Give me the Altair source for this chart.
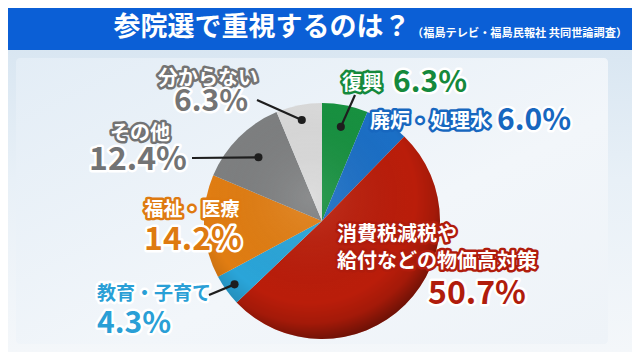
import altair as alt
import pandas as pd
import numpy as np

# ---------------- data ----------------
categories = ["復興", "廃炉・処理水", "消費税減税や給付などの物価高対策",
              "教育・子育て", "福祉・医療", "その他", "分からない"]
values = [6.3, 6.0, 50.7, 4.3, 14.2, 12.4, 6.3]
pct_labels = ["6.3%", "6.0%", "50.7%", "4.3%", "14.2%", "12.4%", "6.3%"]
name_lines = [["復興"], ["廃炉・処理水"], ["消費税減税や", "給付などの物価高対策"],
              ["教育・子育て"], ["福祉・医療"], ["その他"], ["分からない"]]
title_text = "参院選で重視するのは？"
subtitle_text = "（福島テレビ・福島民報社 共同世論調査）"

# ---------------- styles ----------------
slice_colors = ["#179140", "#1b6fc6", "#ba1d0a", "#2aa5d9", "#e17d12", "#7e8081", "#dadada"]
accent = ["#15893c", "#1767bf", "#b01c0c", "#2a9fd6", "#de7a10", "#727374", "#747474"]
# name text: (fill, outline); pct text: (fill, outline)
name_style = [("white", accent[0]), ("white", accent[1]), ("white", accent[2]),
              (accent[3], "white"), ("white", accent[4]), ("white", accent[5]), ("white", accent[6])]
pct_style = [(a, "white") for a in accent]

W, H = 624, 344
CX, CY, R = 314, 213, 118
FONT = "Noto Sans CJK JP"

# label layout: name position, pct position (x, y, align), leader start + dot radius
name_pos = [(334, 76, "left"), (362, 114, "left"), (329, 227, "left"),
            (89, 286, "left"), (184, 202, "center"), (132, 126, "center"), (200, 71, "center")]
name_gap = 27
pct_pos = [(385, 75, "left"), (489, 113, "left"), (420, 286, "left"),
           (89, 316, "left"), (185, 232, "center"), (130, 152, "center"), (203, 94, "center")]
name_size = [20, 20, 20, 19, 19, 20, 20]
pct_size = [30, 30, 32, 30, 32, 32, 30]
leaders = {0: (347, 87, 96), 3: (201, 287, 108), 5: (184, 150, 90), 6: (249, 92, 103)}

# ---------------- tables ----------------
pie_df = pd.DataFrame({"cat": categories, "val": values, "order": range(len(values))})

vals = np.array(values)
cum = np.cumsum(vals) - vals / 2.0
mid_angle = cum / vals.sum() * 2 * np.pi

rows = []
for i in range(len(categories)):
    x, y, al = name_pos[i]
    for j, line in enumerate(name_lines[i]):
        rows.append(dict(t=line, x=x, y=y + j * name_gap, al=al, s=name_size[i],
                         fill=name_style[i][0], out=name_style[i][1]))
    x, y, al = pct_pos[i]
    rows.append(dict(t=pct_labels[i], x=x, y=y, al=al, s=pct_size[i],
                     fill=pct_style[i][0], out=pct_style[i][1]))
text_df = pd.DataFrame(rows)

lrows = []
for i, (lx, ly, rr) in leaders.items():
    a = mid_angle[i]
    lrows.append(dict(x=lx, y=ly, x2=CX + rr * np.sin(a), y2=CY - rr * np.cos(a)))
lead_df = pd.DataFrame(lrows)

# ---------------- layers ----------------
bg = alt.Chart(pd.DataFrame({"a": [0]})).mark_rect(
    fill=alt.Gradient(gradient="linear", x1=0, y1=0, x2=0, y2=1,
                      stops=[alt.GradientStop(offset=0, color="#d4e3f0"),
                             alt.GradientStop(offset=0.5, color="#e8f0f7"),
                             alt.GradientStop(offset=1, color="#f4f7fa")])
).encode(x=alt.value(0), x2=alt.value(W), y=alt.value(0), y2=alt.value(H))

panel = alt.Chart(pd.DataFrame({"a": [0]})).mark_rect(
    cornerRadius=4,
    fill=alt.Gradient(gradient="linear", x1=0, y1=0, x2=1, y2=1,
                      stops=[alt.GradientStop(offset=0, color="#e3edf6"),
                             alt.GradientStop(offset=0.6, color="#f2f6fa"),
                             alt.GradientStop(offset=1, color="#eef3f8")])
).encode(x=alt.value(8), x2=alt.value(600), y=alt.value(50), y2=alt.value(336))

header = alt.Chart(pd.DataFrame({"a": [0]})).mark_rect(color="#0b5fd6").encode(
    x=alt.value(0), x2=alt.value(W), y=alt.value(0), y2=alt.value(42))

title = alt.Chart(pd.DataFrame({"t": [title_text]})).mark_text(
    font=FONT, fontWeight="bold", fontSize=27, color="white", align="center", baseline="middle"
).encode(x=alt.value(254), y=alt.value(20), text="t:N")

subtitle = alt.Chart(pd.DataFrame({"t": [subtitle_text]})).mark_text(
    font=FONT, fontWeight="bold", fontSize=11.2, color="white", align="left", baseline="middle"
).encode(x=alt.value(404), y=alt.value(26), text="t:N")

pie = alt.Chart(pie_df).mark_arc(outerRadius=R).encode(
    theta=alt.Theta("val:Q", stack=True),
    color=alt.Color("cat:N", scale=alt.Scale(domain=categories, range=slice_colors), legend=None),
    order=alt.Order("order:Q"),
    x=alt.value(CX), y=alt.value(CY),
)

shade = alt.Chart(pd.DataFrame({"a": [0]})).mark_arc(
    outerRadius=R, theta=0, theta2=2 * np.pi,
    fill=alt.Gradient(gradient="radial", x1=0.45, y1=0.4, r1=0, x2=0.45, y2=0.4, r2=0.62,
                      stops=[alt.GradientStop(offset=0, color="rgba(255,255,255,0.10)"),
                             alt.GradientStop(offset=0.72, color="rgba(0,0,0,0)"),
                             alt.GradientStop(offset=0.86, color="rgba(0,0,0,0.12)"),
                             alt.GradientStop(offset=1, color="rgba(0,0,0,0.45)")])
).encode(x=alt.value(CX), y=alt.value(CY))

lines = alt.Chart(lead_df).mark_rule(color="#1e1e1e", strokeWidth=2.2).encode(
    x=alt.X("x:Q", scale=None), y=alt.Y("y:Q", scale=None),
    x2="x2:Q", y2="y2:Q")

dots = alt.Chart(lead_df).mark_circle(color="#1e1e1e", opacity=1, size=65).encode(
    x=alt.X("x2:Q", scale=None), y=alt.Y("y2:Q", scale=None))


def text_layers(align):
    base = alt.Chart(text_df).transform_filter(alt.datum.al == align)
    outline = base.mark_text(font=FONT, fontWeight="bold", align=align, baseline="middle",
                             strokeWidth=5, strokeJoin="round").encode(
        x=alt.X("x:Q", scale=None), y=alt.Y("y:Q", scale=None), text="t:N",
        size=alt.Size("s:Q", scale=None),
        fill=alt.Fill("out:N", scale=None), stroke=alt.Stroke("out:N", scale=None))
    front = base.mark_text(font=FONT, fontWeight="bold", align=align, baseline="middle").encode(
        x=alt.X("x:Q", scale=None), y=alt.Y("y:Q", scale=None), text="t:N",
        size=alt.Size("s:Q", scale=None),
        fill=alt.Fill("fill:N", scale=None))
    return [outline, front]


chart = alt.layer(
    bg, panel, header, title, subtitle, pie, shade, lines, dots,
    *text_layers("left"), *text_layers("center")
).properties(
    width=W, height=H, padding=0, autosize=alt.AutoSizeParams(type="none"),
    background="white"
).configure_view(stroke=None)

chart.save("out.html", embed_options={"renderer": "svg", "actions": False})
